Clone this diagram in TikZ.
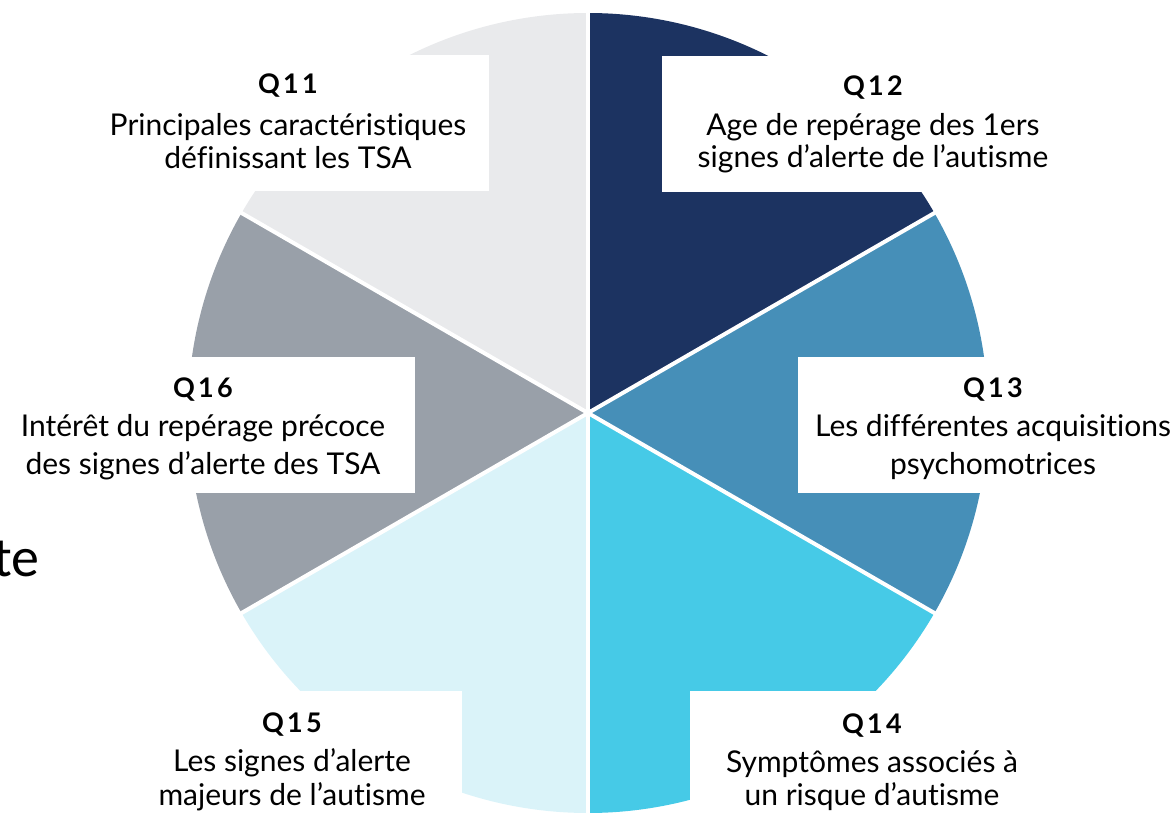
\documentclass[tikz,border=0pt]{standalone}
\usepackage{fontspec}
\setmainfont{Lato}[Ligatures=NoCommon]
\newfontfamily\qfont[LetterSpace=12]{Lato}
\newfontfamily\calib{Carlito}
\definecolor{cnavy}{HTML}{1C3361}
\definecolor{csteel}{HTML}{468FB8}
\definecolor{ccyan}{HTML}{46CAE7}
\definecolor{clcyan}{HTML}{DAF3F9}
\definecolor{cgray}{HTML}{99A0A9}
\definecolor{clgray}{HTML}{E9EAEC}
\begin{document}
\begin{tikzpicture}[x=1pt,y=1pt,
  whitebox/.style={fill=white,draw=none,inner sep=0pt,anchor=south west},
  qtitle/.style={anchor=base,inner sep=0pt,font=\qfont\bfseries\fontsize{27}{30}\selectfont},
  qline/.style={anchor=base,inner sep=0pt,font=\fontsize{30}{34}\selectfont}]
\useasboundingbox (0,0) rectangle (1173,815);
\coordinate (c) at (588,402);
% sectors
\fill[cnavy]  (c) -- ++(30:400)  arc[start angle=30,end angle=90,radius=400] -- cycle;
\fill[csteel] (c) -- ++(-30:400) arc[start angle=-30,end angle=30,radius=400] -- cycle;
\fill[ccyan]  (c) -- ++(-90:400) arc[start angle=-90,end angle=-30,radius=400] -- cycle;
\fill[clcyan] (c) -- ++(-150:400) arc[start angle=-150,end angle=-90,radius=400] -- cycle;
\fill[cgray]  (c) -- ++(150:400) arc[start angle=150,end angle=210,radius=400] -- cycle;
\fill[clgray] (c) -- ++(90:400)  arc[start angle=90,end angle=150,radius=400] -- cycle;
\foreach \a in {30,90,150,210,270,330}
  \draw[white,line width=4pt] (c) -- ++(\a:404);
% white boxes
\node[whitebox,minimum width=402,minimum height=136] (b11) at (87,624) {};
\node[whitebox,minimum width=422,minimum height=136] (b12) at (662,623) {};
\node[whitebox,minimum width=390,minimum height=136] (b13) at (798,322) {};
\node[whitebox,minimum width=424,minimum height=136] (b16) at (-9,322) {};
\node[whitebox,minimum width=340,minimum height=140] (b15) at (122,-16) {};
\node[whitebox,minimum width=364,minimum height=140] (b14) at (690,-16) {};
% texts
\node[qtitle] (t11) at (288,721) {Q11};
\node[qline] (t11a) at (288,679) {Principales caractéristiques};
\node[qline] (t11b) at (288,646) {définissant les TSA};
\node[qtitle] (t12) at (873,719) {Q12};
\node[qline] (t12a) at (873,679) {Age de repérage des 1ers};
\node[qline] (t12b) at (873,647) {signes d’alerte de l’autisme};
\node[qtitle] (t13) at (993,417) {Q13};
\node[qline] (t13a) at (993,378) {Les différentes acquisitions};
\node[qline] (t13b) at (993,340) {psychomotrices};
\node[qtitle] (t16) at (203,417) {Q16};
\node[qline] (t16a) at (203,378) {Intérêt du repérage précoce};
\node[qline] (t16b) at (203,340) {des signes d’alerte des TSA};
\node[qtitle] (t15) at (292,83) {Q15};
\node[qline] (t15a) at (292,44) {Les signes d’alerte};
\node[qline] (t15b) at (292,10) {majeurs de l’autisme};
\node[qtitle] (t14) at (872,82) {Q14};
\node[qline] (t14a) at (872,43) {Symptômes associés à};
\node[qline] (t14b) at (872,10) {un risque d’autisme};
\node[anchor=base east,inner sep=0pt,font=\calib\fontsize{56}{60}\selectfont] (te) at (40,239) {te};
\end{tikzpicture}
\end{document}
